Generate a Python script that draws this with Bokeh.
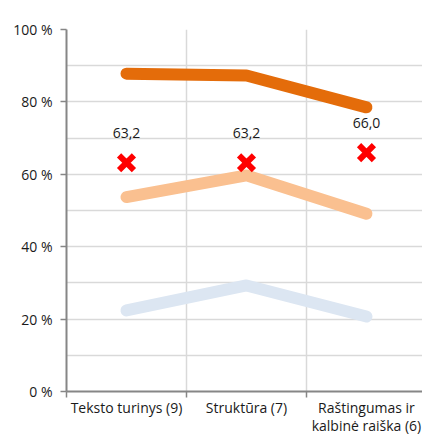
from bokeh.plotting import figure
from bokeh.models import Range1d, FixedTicker, ColumnDataSource
from bokeh.core.properties import value
from bokeh.embed import file_html
from bokeh.resources import INLINE

categories = ["Teksto turinys (9)", "Struktūra (7)", "Raštingumas ir\nkalbinė raiška (6)"]
series_high = [87.8, 87.3, 78.5]
series_mid = [53.7, 59.7, 49.1]
series_low = [22.4, 29.3, 20.7]
series_mark = [63.2, 63.2, 66.0]
y_ticks = [0, 20, 40, 60, 80, 100]
y_grid = [0, 10, 20, 30, 40, 50, 60, 70, 80, 90, 100]

FONT = "Open Sans"
FS = "14px"
xs = [i + 0.5 for i in range(len(categories))]

p = figure(width=422, height=437, output_backend="svg", toolbar_location=None,
           x_range=Range1d(0, 2.967), y_range=Range1d(0, 100),
           min_border_left=66, min_border_right=0, min_border_top=29, min_border_bottom=46)
p.outline_line_color = None
p.background_fill_color = "white"

# grids
p.ygrid.ticker = FixedTicker(ticks=y_grid)
p.ygrid.grid_line_color = "#D9D9D9"
p.ygrid.grid_line_width = 1.5
p.xgrid.ticker = FixedTicker(ticks=[1, 2, 3])
p.xgrid.grid_line_color = "#D9D9D9"
p.xgrid.grid_line_width = 1.5

# y axis
p.yaxis.ticker = FixedTicker(ticks=y_ticks)
p.yaxis.major_label_overrides = {t: f"{t} %" for t in y_ticks}
p.yaxis.axis_line_color = "#868686"
p.yaxis.axis_line_width = 2
p.yaxis.major_tick_line_color = "#868686"
p.yaxis.major_tick_line_width = 1.5
p.yaxis.major_tick_out = 6
p.yaxis.major_tick_in = 0
p.yaxis.minor_tick_line_color = None
p.yaxis.major_label_text_font = FONT
p.yaxis.major_label_text_font_size = FS
p.yaxis.major_label_text_color = "#1a1a1a"
p.yaxis.major_label_standoff = 8

# x axis
p.xaxis.ticker = FixedTicker(ticks=xs, minor_ticks=[0, 1, 2, 3])
p.xaxis.major_label_overrides = {x: c for x, c in zip(xs, categories)}
p.xaxis.axis_line_color = "#868686"
p.xaxis.axis_line_width = 2
p.xaxis.major_tick_line_color = None
p.xaxis.major_tick_out = 0
p.xaxis.minor_tick_line_color = "#868686"
p.xaxis.minor_tick_line_width = 1.5
p.xaxis.minor_tick_out = 6
p.xaxis.minor_tick_in = 0
p.xaxis.major_label_text_font = FONT
p.xaxis.major_label_text_font_size = FS
p.xaxis.major_label_text_color = "#1a1a1a"
p.xaxis.major_label_text_line_height = 0.95
p.xaxis.major_label_standoff = 0

lw = 12
p.line(xs, series_low, line_color="#DCE6F2", line_width=lw, line_cap="round", line_join="round")
p.line(xs, series_mid, line_color="#FAC090", line_width=lw, line_cap="round", line_join="round")
p.line(xs, series_high, line_color="#E46C0A", line_width=lw, line_cap="round", line_join="round")

src = ColumnDataSource(dict(x=xs, y=series_mark,
                            lab=[f"{v:.1f}".replace(".", ",") for v in series_mark]))
p.scatter("x", "y", source=src, marker="x", size=21, line_color="#FF0000", line_width=6)
p.text("x", "y", text="lab", source=src, text_font=value(FONT), text_font_size=FS,
       text_color="#1a1a1a", text_align="center", text_baseline="middle", y_offset=-30)

open("out.html", "w").write(file_html(p, INLINE))
